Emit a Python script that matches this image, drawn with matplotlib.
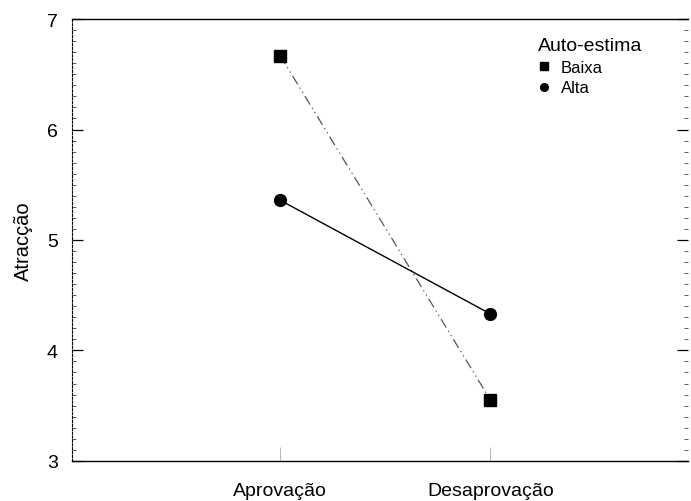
import matplotlib
matplotlib.use("Agg")
import matplotlib.pyplot as plt
from matplotlib.ticker import MultipleLocator

# data
conditions = ["Aprovação", "Desaprovação"]
baixa = [6.67, 3.55]
alta = [5.36, 4.33]
y_ticks = [3, 4, 5, 6, 7]

plt.rcParams['font.family'] = ['Liberation Sans', 'DejaVu Sans']

fig = plt.figure(figsize=(6.91, 5.02), dpi=100)
ax = fig.add_axes([0.104, 0.080, 0.892, 0.880])

xs = list(range(len(conditions)))
ax.plot(xs, baixa, color='#555555', lw=0.9, linestyle=(0, (8, 3, 1, 3, 1, 3)),
        marker='s', markersize=8.5, markerfacecolor='black', markeredgecolor='black',
        label='Baixa')
ax.plot(xs, alta, color='black', lw=1.0,
        marker='o', markersize=8.5, markerfacecolor='black', markeredgecolor='black',
        label='Alta')

ax.set_xlim(-0.99, 1.94)
ax.set_ylim(3, 7)
ax.set_xticks(xs)
ax.set_xticklabels(conditions, fontsize=14)
ax.set_yticks(y_ticks)
ax.set_yticklabels([str(t) for t in y_ticks], fontsize=14)
ax.yaxis.set_minor_locator(MultipleLocator(0.1))

ax.tick_params(axis='y', which='major', direction='in', length=8, width=0.9,
               left=True, right=True, pad=10)
ax.tick_params(axis='y', which='minor', direction='in', length=3, width=0.6,
               left=True, right=True, color='#444444')
ax.tick_params(axis='x', which='major', direction='in', length=10, width=0.6,
               color='#aaaaaa', pad=15)

ax.spines['left'].set_linestyle((0, (2, 1.5)))
ax.spines['left'].set_linewidth(0.8)
ax.spines['right'].set_visible(False)
ax.spines['top'].set_linewidth(1.0)
ax.spines['bottom'].set_linewidth(1.0)

ax.set_ylabel("Atracção", fontsize=14.5, labelpad=10)

leg = ax.legend(title="Auto-estima", loc='upper left', bbox_to_anchor=(0.745, 0.975),
                frameon=False, fontsize=12, title_fontsize=14, markerscale=0.65,
                handlelength=0.7, handletextpad=0.7, labelspacing=0.35,
                borderaxespad=0.0)
leg._legend_box.align = "left"
for h in leg.legend_handles:
    h.set_linestyle('')

fig.savefig("out.png", dpi=100)
